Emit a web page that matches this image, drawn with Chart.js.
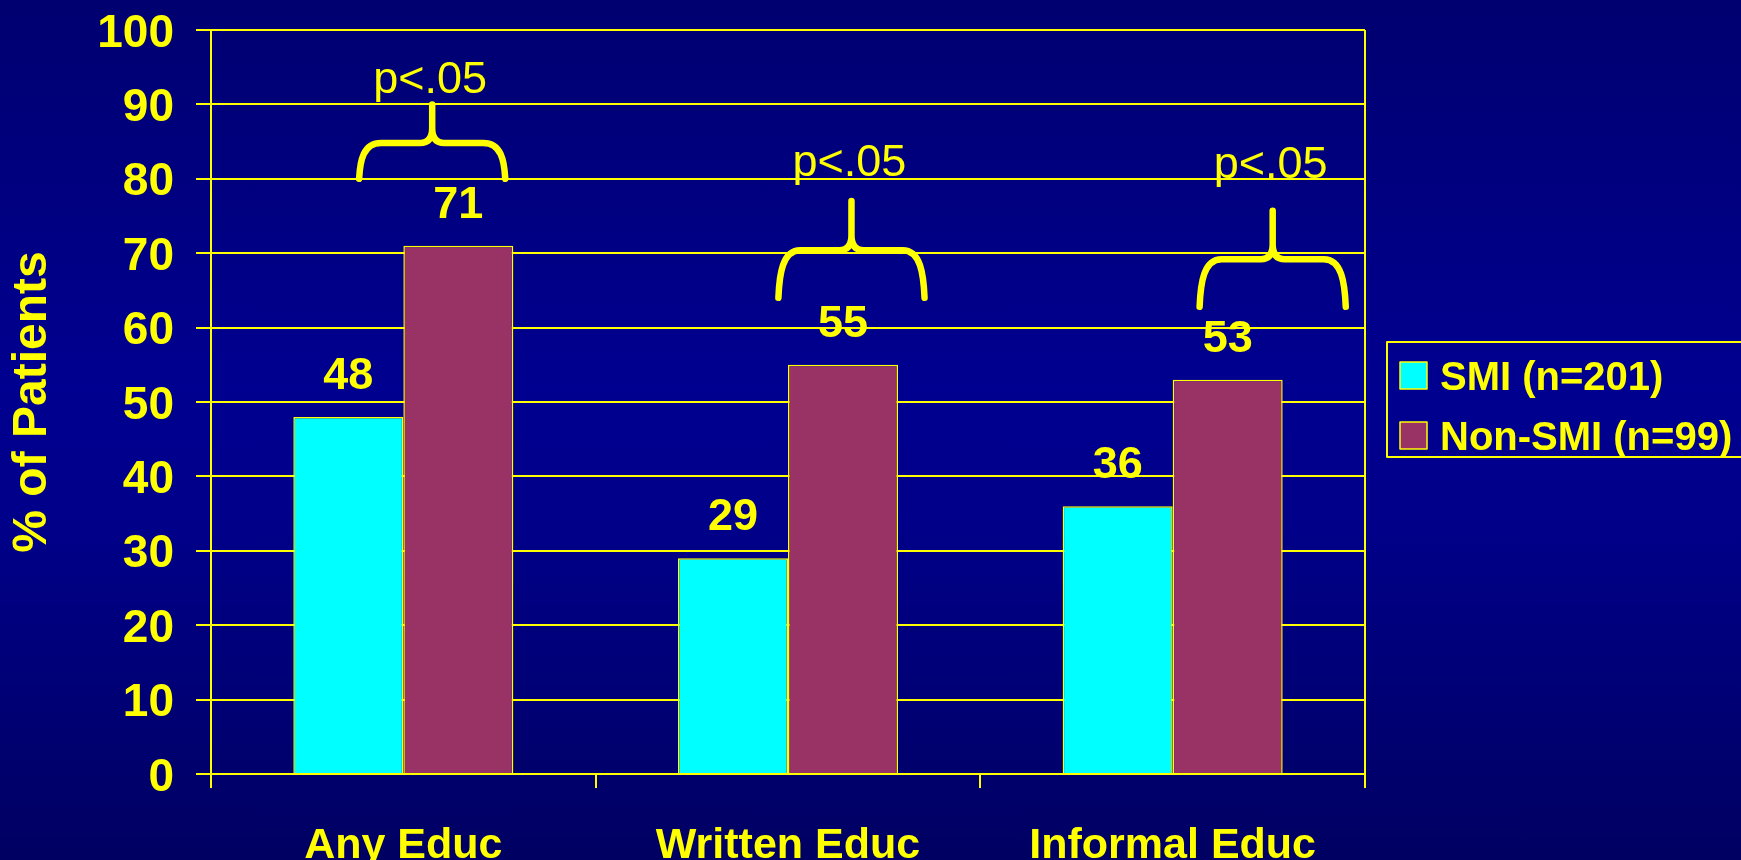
<!DOCTYPE html>
<html>
<head>
<meta charset="utf-8">
<title>Patient education by group</title>
<script src="https://cdn.jsdelivr.net/npm/chart.js@4/dist/chart.umd.min.js"></script>
<style>
    html, body {
        margin: 0;
        padding: 0;
        overflow: hidden;
    }
    body {
        width: 1741px;
        height: 860px;
        background: linear-gradient(to bottom, #000070 0%, #000090 45%, #00008a 60%, #000062 100%);
    }
    canvas {
        display: block;
    }
</style>
</head>
<body>
<canvas id="educChart" width="1741" height="860"></canvas>
<script>
    const categories = ['Any Educ', 'Written Educ', 'Informal Educ'];
    const smiValues = [48, 29, 36];
    const nonSmiValues = [71, 55, 53];
    const seriesLabels = ['SMI (n=201)', 'Non-SMI (n=99)'];
    const yTicks = [0, 10, 20, 30, 40, 50, 60, 70, 80, 90, 100];

    // significance braces, x in category units, heights in percent
    const braceCentres = [0.075, 1.165, 2.26];
    const braceEnds = [80, 64, 62.8];
    const braceBars = [84.8, 70.4, 69.2];
    const braceTips = [90, 77, 75.7];
    const pLabelBase = [91.5, 80.4, 80.1];
    const pLabel = 'p<.05';

    const yellow = '#FFFF00';
    const fontFamily = '"Liberation Sans", Arial, Helvetica, sans-serif';

    Chart.defaults.font.family = fontFamily;
    Chart.defaults.color = yellow;

    function drawBrace(ctx, xl, xr, xc, yEnd, yBar, yTip) {
        const drop = yEnd - yBar;
        ctx.beginPath();
        ctx.moveTo(xl, yEnd);
        ctx.bezierCurveTo(xl + 1, yEnd - drop * 0.5, xl + 4, yBar, xl + 22, yBar);
        ctx.lineTo(xc - 12, yBar);
        ctx.quadraticCurveTo(xc, yBar, xc, yBar - 15);
        ctx.lineTo(xc, yTip);
        ctx.moveTo(xr, yEnd);
        ctx.bezierCurveTo(xr - 1, yEnd - drop * 0.5, xr - 4, yBar, xr - 22, yBar);
        ctx.lineTo(xc + 12, yBar);
        ctx.quadraticCurveTo(xc, yBar, xc, yBar - 15);
        ctx.stroke();
    }

    const overlay = {
        id: 'overlay',
        afterDatasetsDraw(chart) {
            const ctx = chart.ctx;
            const area = chart.chartArea;
            const xs = chart.scales.x;
            const ys = chart.scales.y;

            ctx.save();

            // right edge of the plot frame
            ctx.strokeStyle = yellow;
            ctx.lineWidth = 2;
            ctx.beginPath();
            ctx.moveTo(area.right, area.top);
            ctx.lineTo(area.right, area.bottom);
            ctx.stroke();

            // value labels above each bar
            ctx.fillStyle = yellow;
            ctx.font = 'bold 45px ' + fontFamily;
            ctx.textAlign = 'center';
            ctx.textBaseline = 'alphabetic';
            chart.data.datasets.forEach((ds, i) => {
                chart.getDatasetMeta(i).data.forEach((bar, j) => {
                    ctx.fillText(String(ds.data[j]), bar.x, bar.y - 28);
                });
            });

            // braces and p-values
            const half = 0.19;
            ctx.lineWidth = 6.5;
            ctx.lineCap = 'round';
            ctx.lineJoin = 'round';
            ctx.font = '45px ' + fontFamily;
            braceCentres.forEach((c, i) => {
                const xc = xs.getPixelForValue(c);
                const xl = xs.getPixelForValue(c - half);
                const xr = xs.getPixelForValue(c + half);
                drawBrace(ctx, xl, xr, xc,
                    ys.getPixelForValue(braceEnds[i]),
                    ys.getPixelForValue(braceBars[i]),
                    ys.getPixelForValue(braceTips[i]));
                ctx.fillText(pLabel, xc - 2, ys.getPixelForValue(pLabelBase[i]));
            });

            // legend box on the right
            const lx = area.right + 22;
            const ly = area.top + 312;
            ctx.lineWidth = 2;
            ctx.strokeRect(lx, ly, 420, 115);
            ctx.font = 'bold 40px ' + fontFamily;
            ctx.textAlign = 'left';
            chart.data.datasets.forEach((ds, i) => {
                const sy = ly + 20 + i * 60;
                ctx.fillStyle = ds.backgroundColor;
                ctx.fillRect(lx + 13, sy, 27, 27);
                ctx.strokeStyle = yellow;
                ctx.lineWidth = 1.5;
                ctx.strokeRect(lx + 13, sy, 27, 27);
                ctx.fillStyle = yellow;
                ctx.fillText(ds.label, lx + 53, sy + 28);
            });

            ctx.restore();
        },
    };

    new Chart(document.getElementById('educChart'), {
        type: 'bar',
        data: {
            labels: categories,
            datasets: [
                {
                    label: seriesLabels[0],
                    data: smiValues,
                    backgroundColor: '#00FFFF',
                    borderColor: yellow,
                    borderWidth: 1.5,
                },
                {
                    label: seriesLabels[1],
                    data: nonSmiValues,
                    backgroundColor: '#993366',
                    borderColor: yellow,
                    borderWidth: 1.5,
                },
            ],
        },
        options: {
            responsive: false,
            animation: false,
            devicePixelRatio: 1,
            layout: {
                padding: { top: 30, right: 376, bottom: 0, left: 0 },
            },
            datasets: {
                bar: {
                    categoryPercentage: 0.572,
                    barPercentage: 1,
                },
            },
            plugins: {
                legend: { display: false },
                tooltip: { enabled: false },
            },
            scales: {
                x: {
                    grid: {
                        display: true,
                        drawOnChartArea: false,
                        color: yellow,
                        lineWidth: 2,
                        tickLength: 14,
                    },
                    border: { color: yellow, width: 2 },
                    ticks: {
                        color: yellow,
                        padding: 32,
                        font: { size: 43, weight: 'bold' },
                    },
                    afterFit(scale) {
                        scale.height = 86;
                    },
                },
                y: {
                    min: 0,
                    max: 100,
                    afterBuildTicks(scale) {
                        scale.ticks = yTicks.map(v => ({ value: v }));
                    },
                    grid: {
                        color: yellow,
                        lineWidth: 2,
                        tickLength: 15,
                    },
                    border: { color: yellow, width: 2 },
                    ticks: {
                        color: yellow,
                        padding: 22,
                        labelOffset: 4,
                        font: { size: 46, weight: 'bold', lineHeight: 1 },
                    },
                    title: {
                        display: true,
                        text: '% of Patients',
                        color: yellow,
                        padding: { top: 9, bottom: 0 },
                        font: { size: 48, weight: 'bold', lineHeight: 1 },
                    },
                    afterFit(scale) {
                        scale.width = 211;
                        // the layout padding alone sets the plot top
                        scale.paddingTop = 0;
                        scale.paddingBottom = 0;
                    },
                },
            },
        },
        plugins: [overlay],
    });
</script>
</body>
</html>
